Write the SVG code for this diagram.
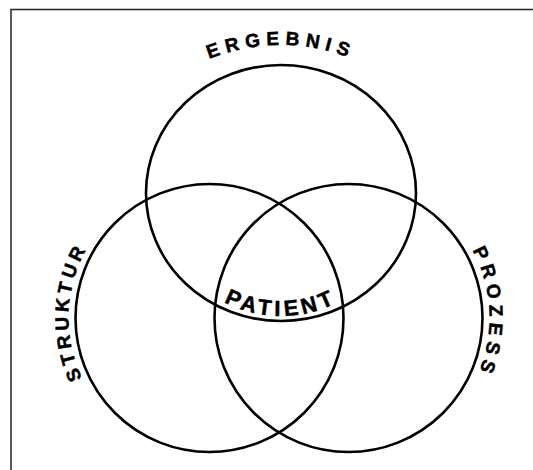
<svg xmlns="http://www.w3.org/2000/svg" width="533" height="470" viewBox="0 0 533 470">
<style>
.c{fill:none;stroke:#000;stroke-width:2.6}
.f{fill:none;stroke:#222;stroke-width:1.5}
.t{font-family:"Liberation Sans",Arial,sans-serif;font-weight:bold;font-size:19px;fill:#000;stroke:#000;stroke-width:0.5}
</style>
<defs>
<path id="pE" d="M 91 235 A 190 190 0 0 1 471 235"/>
<path id="pP" d="M 158 193 A 123 123 0 0 0 404 193"/>
<path id="pS" d="M 139 440.1 A 141 141 0 0 1 139 195.9"/>
<path id="pZ" d="M 419 195.9 A 141 141 0 0 1 419 440.1"/>
</defs>
<rect width="533" height="470" fill="#fff"/>
<g id="frame"><path class="f" d="M 11 470 L 11 9.5 L 533 9.5"/></g>
<g id="ergebnis"><ellipse class="c" cx="281" cy="193" rx="135" ry="128"/><text class="t" style="letter-spacing:6px"><textPath href="#pE" startOffset="50%" text-anchor="middle">ERGEBNIS</textPath></text></g>
<g id="struktur"><circle class="c" cx="209.5" cy="318" r="134"/><text class="t" style="letter-spacing:4px"><textPath href="#pS" startOffset="52%" text-anchor="middle">STRUKTUR</textPath></text></g>
<g id="prozess"><circle class="c" cx="348.5" cy="318" r="134"/><text class="t" style="letter-spacing:5.5px"><textPath href="#pZ" startOffset="48%" text-anchor="middle">PROZESS</textPath></text></g>
<g id="patient"><text class="t" style="letter-spacing:4px;font-size:22px"><textPath href="#pP" startOffset="50%" text-anchor="middle">PATIENT</textPath></text></g>
<g id="connectors"/>
</svg>
